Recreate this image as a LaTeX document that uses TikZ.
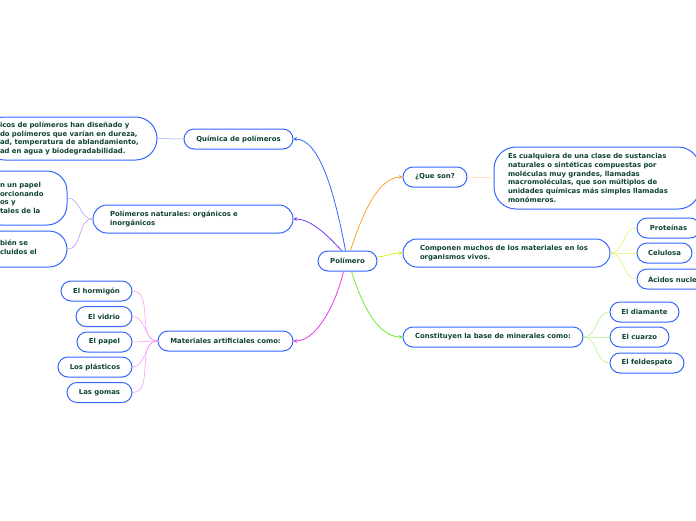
\documentclass[tikz,border=0pt]{standalone}
\usepackage{fontspec}
\setmainfont{DejaVu Sans}
\usetikzlibrary{arrows.meta}
\frenchspacing
\definecolor{boxblue}{RGB}{51,102,255}
\definecolor{inkgreen}{RGB}{14,68,50}
\definecolor{linkblue}{RGB}{51,102,255}
\definecolor{linkpurple}{RGB}{119,51,238}
\definecolor{linkpink}{RGB}{238,51,238}
\definecolor{linkorange}{RGB}{255,165,40}
\definecolor{linklime}{RGB}{205,240,20}
\definecolor{linkgreen}{RGB}{110,235,50}
\begin{document}
\begin{tikzpicture}[x=1pt, y=-1pt,
        every node/.style={font=\fontsize{6.9}{8.7}\selectfont\bfseries, text=inkgreen},
        mapbox/.style={draw=boxblue, line width=1pt, fill=white, rounded corners=#1,
            minimum height=20pt, inner sep=0pt},
        mapbox/.default=10pt,
        mainlink/.style={line width=0.8pt, -{Stealth[length=3.5pt, width=4pt]}},
        sublink/.style={line width=0.5pt}]
    \useasboundingbox (0,0) rectangle (696,520);
    \clip (0,0) rectangle (696,520);
    % centre
    \node[mapbox, minimum width=59pt] (polimero) at (347.5,261) {Polímero};
    % left side
    \node[mapbox, minimum width=109pt] (quimica) at (238.5,139) {Química de polímeros};
    \node[mapbox=21.5pt, minimum width=174pt, minimum height=43pt, text width=140pt, align=left]
        (quimica-text) at (70,138.5)
        {icos de polímeros han diseñado y\\do polímeros que varían en dureza,\\ad, temperatura de ablandamiento,\\ad en agua y biodegradabilidad.};
    \node[mapbox=14pt, minimum width=200pt, minimum height=28pt, text width=166pt, align=left]
        (naturales) at (193,219) {Polímeros naturales: orgánicos e\\inorgánicos};
    \node[mapbox=20pt, minimum width=86pt, minimum height=54pt, text width=48pt, align=left]
        (natural-1) at (24,198) {n un papel\\orcionando\\os y\\tales de la};
    \node[mapbox=18pt, minimum width=86pt, minimum height=36pt, text width=48pt, align=left,
        text depth=12pt] (natural-2) at (24,249) {bién se\\cluidos el};
    \node[mapbox, minimum width=135pt] (materiales) at (225.5,341) {Materiales artificiales como:};
    \foreach \name/\xpos/\ypos/\wide/\leaftext in {
            hormigon/96.5/291/71/El hormigón,
            vidrio/104/316.5/56/El vidrio,
            papel/104.5/342/55/El papel,
            plasticos/95/367/74/Los plásticos,
            gomas/99.5/392.5/65/Las gomas}
        \node[mapbox, minimum width=\wide pt] (\name) at (\xpos,\ypos) {\leaftext};
    % right side
    \node[mapbox, minimum width=64pt] (queson) at (435,177) {¿Que son?};
    \node[mapbox=22pt, minimum width=206pt, minimum height=62pt, text width=178pt, align=left]
        (queson-text) at (597,178)
        {Es cualquiera de una clase de sustancias\\naturales o sintéticas compuestas por\\moléculas muy grandes, llamadas\\macromoléculas, que son múltiplos de\\unidades químicas más simples llamadas\\monómeros.};
    \node[mapbox=14pt, minimum width=207pt, minimum height=28pt, text width=173pt, align=left]
        (componen) at (506.5,253) {Componen muchos de los materiales en los\\organismos vivos.};
    \node[mapbox, minimum width=63pt] (proteinas) at (668.5,228) {Proteínas};
    \node[mapbox, minimum width=55pt] (celulosa) at (664.5,253) {Celulosa};
    \node[mapbox, minimum width=106pt, text width=84pt, align=left] (acidos) at (690,279) {Ácidos nucle};
    \node[mapbox, minimum width=180pt] (constituyen) at (493,337) {Constituyen la base de minerales como:};
    \node[mapbox, minimum width=69pt] (diamante) at (644.5,312) {El diamante};
    \node[mapbox, minimum width=59pt] (cuarzo) at (639.5,337) {El cuarzo};
    \node[mapbox, minimum width=74pt] (feldespato) at (647,363) {El feldespato};
    % main branches
    \draw[mainlink, linkblue] ([xshift=-2pt]polimero.north) .. controls (335,195) and (320,139) .. (quimica.east);
    \draw[mainlink, linkpurple] ([xshift=-6pt]polimero.north) .. controls (330,238) and (312,219) .. (naturales.east);
    \draw[mainlink, linkpink] ([xshift=-4pt]polimero.south) .. controls (337,300) and (318,341) .. (materiales.east);
    \draw[mainlink, linkorange] ([xshift=3pt]polimero.north) .. controls (362,215) and (378,177) .. (queson.west);
    \draw[mainlink, linklime] ([yshift=4pt]polimero.east) .. controls (388,256) and (392,253) .. (componen.west);
    \draw[mainlink, linkgreen] ([xshift=4pt]polimero.south) .. controls (362,305) and (378,337) .. (constituyen.west);
    % sub branches
    \draw[sublink, linkblue!55] (quimica.west) -- (quimica-text.east);
    \draw[sublink, linkorange!55] (queson.east) -- (queson-text.west);
    \foreach \leaf in {natural-1, natural-2}
        \draw[sublink, linkpurple!55] (naturales.west) to[out=180, in=0] (\leaf.east);
    \foreach \leaf in {hormigon, vidrio, papel, plasticos, gomas}
        \draw[sublink, linkpink!55] (materiales.west) to[out=180, in=0] (\leaf.east);
    \foreach \leaf in {proteinas, celulosa, acidos}
        \draw[sublink, linklime!70] (componen.east) to[out=0, in=180] (\leaf.west);
    \foreach \leaf in {diamante, cuarzo, feldespato}
        \draw[sublink, linkgreen!60] (constituyen.east) to[out=0, in=180] (\leaf.west);
\end{tikzpicture}
\end{document}
